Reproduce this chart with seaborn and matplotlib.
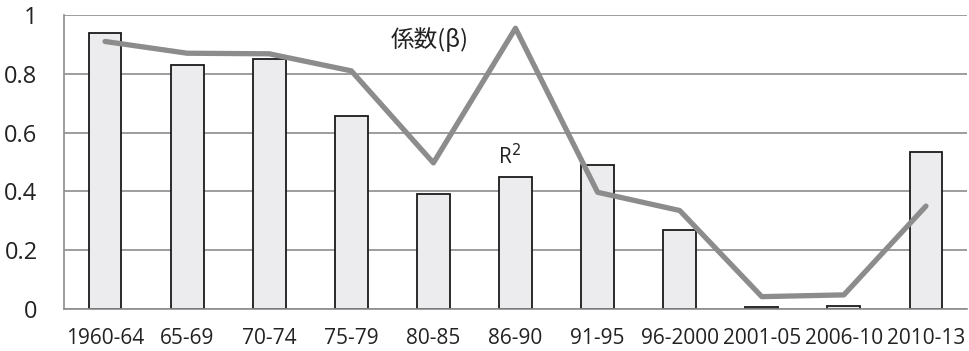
import matplotlib
matplotlib.use("Agg")
import matplotlib.pyplot as plt
import seaborn as sns
import numpy as np
import pandas as pd
from matplotlib.ticker import FixedLocator, FuncFormatter

periods = ["1960-64", "65-69", "70-74", "75-79", "80-85", "86-90",
           "91-95", "96-2000", "2001-05", "2006-10", "2010-13"]
r_squared = [0.94, 0.83, 0.85, 0.655, 0.39, 0.45, 0.49, 0.27, 0.008, 0.011, 0.533]
beta = [0.91, 0.87, 0.868, 0.81, 0.497, 0.955, 0.397, 0.335, 0.042, 0.048, 0.35]
y_ticks = [0, 0.2, 0.4, 0.6, 0.8, 1.0]

sns.set_style("white")
plt.rcParams["font.family"] = ["Open Sans", "Noto Sans CJK JP", "DejaVu Sans"]

df = pd.DataFrame({"period": periods, "r2": r_squared, "beta": beta})

fig = plt.figure(figsize=(9.69, 3.51), dpi=100)
ax = fig.add_axes([64 / 969, 1 - 309 / 351, (967 - 64) / 969, (309 - 15) / 351])

grid_c = "#8c8c8c"
text_c = "#222222"
sns.barplot(data=df, x="period", y="r2", ax=ax, width=0.4,
            color="#ececee", edgecolor="#1a1a1a", linewidth=1.3, saturation=1, zorder=2)
sns.lineplot(x=np.arange(len(periods)), y=df["beta"], ax=ax, color="#8c8c8c",
             linewidth=3.8, zorder=3)

ax.set_xlim(-0.5, len(periods) - 0.5)
ax.set_ylim(0, 1)
ax.set_yticks(y_ticks)
ax.yaxis.set_major_formatter(FuncFormatter(lambda v, p: f"{v:g}"))
ax.grid(axis="y", color=grid_c, linewidth=1.2, zorder=0)
ax.set_axisbelow(True)
for s in ("top", "right"):
    ax.spines[s].set_visible(False)
for s in ("left", "bottom"):
    ax.spines[s].set_color(grid_c)
    ax.spines[s].set_linewidth(1.2)

ax.set_xlabel("")
ax.set_ylabel("")
ax.tick_params(axis="x", which="major", length=0, pad=14, labelsize=15, colors=text_c)
ax.xaxis.set_minor_locator(FixedLocator(np.arange(-0.5, len(periods), 1.0)))
ax.tick_params(axis="x", which="minor", length=5, width=1.2, color=grid_c, direction="out")
ax.tick_params(axis="y", length=7, width=1.2, color=grid_c, pad=12, labelsize=17,
               labelcolor=text_c)

ax.text(3.48, 0.917, "係数(β)", fontsize=17, color=text_c, ha="left", va="center",
        family=["Noto Sans CJK JP", "DejaVu Sans"])
ax.text(4.93, 0.52, "R$^2$", fontsize=15, color=text_c, ha="center", va="center")

fig.savefig("out.png", dpi=100)
